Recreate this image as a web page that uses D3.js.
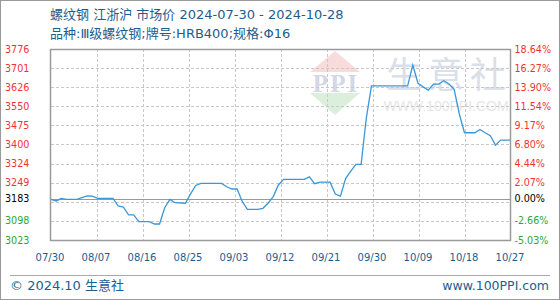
<!DOCTYPE html>
<html><head><meta charset="utf-8">
<script src="https://cdn.jsdelivr.net/npm/d3@7"></script>
<style>
html,body{margin:0;padding:0;background:#fff;}
svg{display:block;}
</style></head>
<body>
<svg id="c" width="560" height="300"></svg>
<script>
// ---- data ----
const titleLine1 = "螺纹钢 江浙沪 市场价 2024-07-30 - 2024-10-28";
const titleLine2 = "品种:Ⅲ级螺纹钢;牌号:HRB400;规格:Φ16";
const dates = ["2024-07-30","2024-07-31","2024-08-01","2024-08-02","2024-08-04","2024-08-05","2024-08-06","2024-08-07","2024-08-08","2024-08-11","2024-08-12","2024-08-13","2024-08-14","2024-08-15","2024-08-16","2024-08-18","2024-08-19","2024-08-20","2024-08-21","2024-08-22","2024-08-23","2024-08-25","2024-08-26","2024-08-27","2024-08-28","2024-09-01","2024-09-02","2024-09-03","2024-09-04","2024-09-05","2024-09-06","2024-09-08","2024-09-09","2024-09-10","2024-09-11","2024-09-12","2024-09-13","2024-09-17","2024-09-18","2024-09-19","2024-09-20","2024-09-22","2024-09-23","2024-09-24","2024-09-25","2024-09-26","2024-09-27","2024-09-28","2024-09-29","2024-09-30","2024-10-07","2024-10-08","2024-10-09","2024-10-10","2024-10-11","2024-10-12","2024-10-13","2024-10-14","2024-10-15","2024-10-16","2024-10-17","2024-10-18","2024-10-20","2024-10-21","2024-10-22","2024-10-23","2024-10-24","2024-10-25","2024-10-27","2024-10-28"];
const prices = [3183,3177,3187,3183,3183,3190,3197,3196,3187,3187,3157,3153,3122,3122,3095,3095,3086,3086,3150,3183,3170,3168,3205,3238,3246,3246,3233,3224,3224,3175,3144,3144,3148,3168,3194,3240,3262,3262,3272,3245,3251,3251,3204,3196,3265,3295,3321,3321,3503,3631,3631,3713,3641,3627,3614,3638,3638,3651,3638,3617,3520,3446,3446,3459,3446,3434,3397,3417,3417,3417];
const basePrice = 3183;
const yDomain = [3022.9, 3776.3];
const xDomain = ["2024-07-30","2024-10-27"];
const leftLabels = ["3023","3098",null,"3249","3324","3400","3475","3550","3626","3701","3776"];
const rightLabels = ["-5.03%","-2.66%",null,"2.07%","4.44%","6.80%","9.17%","11.54%","13.90%","16.27%","18.64%"];
const footerLeft = "© 2024.10 生意社";
const footerRight = "www.100PPI.com";

// ---- layout ----
const svg = d3.select("#c");
const L = 51, R = 511, T = 49, B = 240;
const parse = d3.utcParse("%Y-%m-%d");
const x = d3.scaleUtc().domain(xDomain.map(parse)).range([L, R]);
const y = d3.scaleLinear().domain(yDomain).range([B, T]);
const blue = "#1d5d8e", red = "#ee3333", green = "#2fa52f";
const fontAxis = "'DejaVu Sans', sans-serif";
const fontCJK = "'DejaVu Sans','Noto Sans CJK SC', sans-serif";

// outer border
svg.append("rect").attr("x",0.5).attr("y",0.5).attr("width",559).attr("height",299)
  .attr("fill","none").attr("stroke","#9a9a9a");

// titles
svg.append("text").attr("x",50).attr("y",19).attr("font-family",fontCJK).attr("font-size",13)
  .attr("fill",blue).text(titleLine1);
svg.append("text").attr("x",50).attr("y",38).attr("font-family",fontCJK).attr("font-size",13)
  .attr("fill",blue).text(titleLine2);

// watermark
const wm = svg.append("g");
wm.append("path").attr("d", d3.line()([[335,51],[360,72],[310,72]])).attr("fill","#f8dcdc");
wm.append("path").attr("d", d3.line()([[310,93],[360,93],[335,115]])).attr("fill","#dcefdc");
wm.append("text").attr("x",336).attr("y",92).attr("text-anchor","middle").attr("font-family","'Liberation Serif',serif")
  .attr("font-weight","bold").attr("font-size",25).attr("fill","#d3d8e6").attr("letter-spacing",2).text("PPI");
wm.append("text").attr("x",386).attr("y",88).attr("font-family","'Noto Sans CJK SC',sans-serif")
  .attr("font-size",36).attr("fill","#dbdfea").attr("letter-spacing",6).text("生意社");
wm.append("text").attr("x",446).attr("y",111).attr("text-anchor","middle").attr("font-family","'Liberation Sans',sans-serif")
  .attr("font-size",14).attr("fill","#e6e6e6").text("WWW.100PPI.COM");

// grid
const gridVals = d3.range(11).map(i => yDomain[0] + i*(yDomain[1]-yDomain[0])/10);
const xTicks = d3.range(11).map(i => new Date(x.domain()[0].getTime() + i*(x.domain()[1]-x.domain()[0])/10));
const g = svg.append("g");
g.selectAll(".hg").data(gridVals.slice(1,10)).join("line")
  .attr("x1",L).attr("x2",R).attr("y1",d=>Math.round(y(d))+0.5).attr("y2",d=>Math.round(y(d))+0.5)
  .attr("stroke","#c8c8c8").attr("stroke-dasharray","3,2");
g.selectAll(".vg").data(xTicks.slice(1,10)).join("line")
  .attr("y1",T).attr("y2",B).attr("x1",d=>Math.round(x(d))+0.5).attr("x2",d=>Math.round(x(d))+0.5)
  .attr("stroke","#c8c8c8").attr("stroke-dasharray","3,2");

// baseline
const yb = Math.round(y(basePrice))+0.5;
svg.append("line").attr("x1",L).attr("x2",R).attr("y1",yb).attr("y2",yb).attr("stroke","#999").attr("stroke-width",1.2);

// line
svg.append("clipPath").attr("id","clip").append("rect").attr("x",L).attr("y",T).attr("width",R-L).attr("height",B-T);
const pts = dates.map((d,i)=>({d:parse(d), v:prices[i]}));
svg.append("path").datum(pts).attr("clip-path","url(#clip)")
  .attr("d", d3.line().x(p=>x(p.d)).y(p=>y(p.v)))
  .attr("fill","none").attr("stroke","#3a98d8").attr("stroke-width",1.3);

// plot border
svg.append("rect").attr("x",L-0.5).attr("y",T+0.5).attr("width",R-L).attr("height",B-T)
  .attr("fill","none").attr("stroke","#9a9a9a").attr("stroke-width",1.5);

// left labels
const colorFor = (i) => i < 2 ? green : red;
svg.selectAll(".ll").data(gridVals.map((v,i)=>({v, t:leftLabels[i], i})).filter(d=>d.t)).join("text")
  .attr("x",5).attr("y",d=>y(d.v)+3.5).attr("font-family",fontAxis).attr("font-size",9.6)
  .attr("fill",d=>colorFor(d.i)).text(d=>d.t);
svg.append("text").attr("x",5).attr("y",y(basePrice)+3).attr("font-family",fontAxis).attr("font-size",9.6)
  .attr("fill","#000").text(String(basePrice));
// right labels
svg.selectAll(".rl").data(gridVals.map((v,i)=>({v, t:rightLabels[i], i})).filter(d=>d.t)).join("text")
  .attr("x",514.5).attr("y",d=>y(d.v)+3.5).attr("font-family",fontAxis).attr("font-size",9.6)
  .attr("fill",d=>colorFor(d.i)).text(d=>d.t);
svg.append("text").attr("x",514.5).attr("y",y(basePrice)+3).attr("font-family",fontAxis).attr("font-size",9.6)
  .attr("fill","#000").text(((basePrice/basePrice-1)*100).toFixed(2)+"%");

// x labels
const fmt = d3.utcFormat("%m/%d");
svg.selectAll(".xl").data(xTicks).join("text")
  .attr("x",d=>x(d)-1).attr("y",261).attr("text-anchor","middle")
  .attr("font-family",fontAxis).attr("font-size",10).attr("fill",blue).text(d=>fmt(d));

// footer
svg.append("line").attr("x1",10).attr("x2",550).attr("y1",275.5).attr("y2",275.5).attr("stroke","#aaa");
svg.append("text").attr("x",10).attr("y",290).attr("font-family",fontCJK).attr("font-size",13)
  .attr("fill",blue).text(footerLeft);
svg.append("text").attr("x",549).attr("y",290).attr("text-anchor","end").attr("font-family",fontAxis).attr("font-size",12.5)
  .attr("fill",blue).text(footerRight);
</script>
</body></html>
